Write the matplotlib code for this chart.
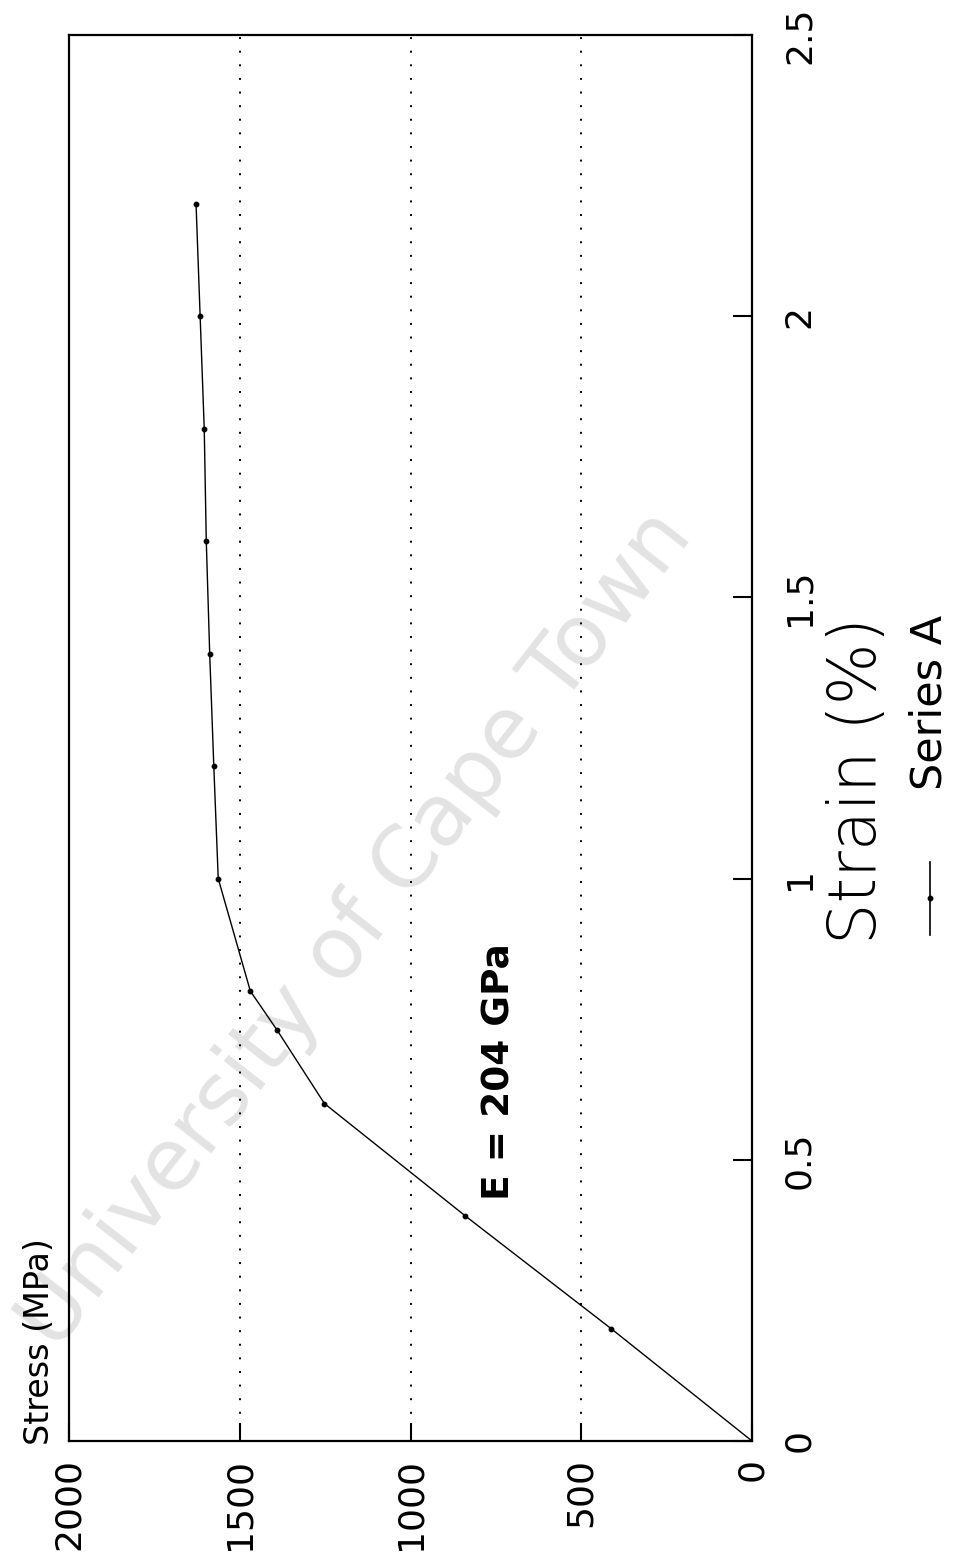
import matplotlib
matplotlib.use("Agg")
import matplotlib.pyplot as plt
from matplotlib.lines import Line2D

# Data
strain = [0.0, 0.2, 0.4, 0.6, 0.73, 0.80, 1.0, 1.2, 1.4, 1.6, 1.8, 2.0, 2.2]
stress = [0, 413, 839, 1252, 1390, 1469, 1563, 1576, 1588, 1598, 1604, 1616, 1628]
stress_ticks = [0, 500, 1000, 1500, 2000]
stress_labels = ["0", "500", "1000", "1500", "2000"]
strain_ticks = [0, 0.5, 1.0, 1.5, 2.0, 2.5]
strain_labels = ["0", "0.5", "1", "1.5", "2", "2.5"]
series_name = "Series A"

W, H = 961, 1558
fig = plt.figure(figsize=(W / 100, H / 100), dpi=100)
fig.patch.set_facecolor("white")

# watermark
fig.text(356 / W, 1 - 930 / H, "University of Cape Town", rotation=52,
         fontsize=62, color="#e3e3e3", ha="center", va="center",
         rotation_mode="anchor", zorder=-1)

ax = fig.add_axes([69 / W, 117 / H, 683 / W, 1406 / H])
ax.set_facecolor("none")

# chart is rotated: strain runs upward, stress runs leftward
ax.plot(stress, strain, color="black", lw=1.0, marker="o", ms=3.2, zorder=3)
ax.set_xlim(2000, 0)
ax.set_ylim(0, 2.5)

ax.set_xticks(stress_ticks)
ax.set_xticklabels(stress_labels)
ax.set_yticks(strain_ticks)
ax.set_yticklabels(strain_labels)
ax.yaxis.tick_right()

ax.tick_params(axis="x", direction="in", length=13, width=1.5, pad=12,
               labelsize=26, labelrotation=90, top=False)
ax.tick_params(axis="y", direction="in", length=14, width=1.5, pad=22,
               labelsize=26, labelrotation=90, left=False)
for lbl in ax.get_yticklabels():
    lbl.set_va("center")
    lbl.set_ha("left")

ax.xaxis.grid(True, linestyle=(0, (1, 6)), color="black", lw=1.4)
ax.yaxis.grid(False)
for sp in ax.spines.values():
    sp.set_linewidth(1.6)
    sp.set_color("black")

# axis titles
fig.text(858 / W, 1 - 780 / H, "Strain (%)", rotation=90, ha="center",
         va="center", fontsize=47, fontweight="light")
fig.text(40 / W, 1 - 1445 / H, "Stress (MPa)", rotation=90, ha="center",
         va="bottom", fontsize=24)

# annotation
fig.text(499 / W, 1 - 1200 / H, "E = 204 GPa", rotation=90, ha="center",
         va="bottom", fontsize=27, fontweight="bold")

# legend (drawn manually, rotated)
fig.add_artist(Line2D([930 / W, 930 / W], [1 - 935 / H, 1 - 862 / H],
                      transform=fig.transFigure, color="black", lw=1.2))
fig.add_artist(Line2D([930 / W], [1 - 898 / H], transform=fig.transFigure,
                      color="black", marker="o", ms=3.2, lw=0))
fig.text(929 / W, 1 - 790 / H, series_name, rotation=90, ha="center",
         va="bottom", fontsize=31)

fig.savefig("out.png", dpi=100, facecolor="white")
